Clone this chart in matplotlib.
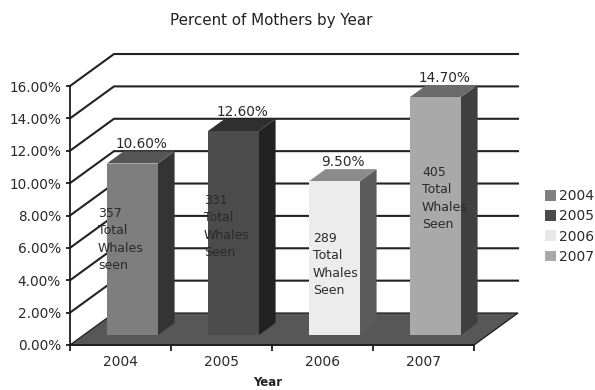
import matplotlib
matplotlib.use('Agg')
import matplotlib.pyplot as plt
from matplotlib.patches import Patch, Polygon
from matplotlib.ticker import FuncFormatter

years = ['2004', '2005', '2006', '2007']
percents = [10.6, 12.6, 9.5, 14.7]
percent_labels = ['10.60%', '12.60%', '9.50%', '14.70%']
whale_notes = ['357\nTotal\nWhales\nseen', '331\nTotal\nWhales\nSeen',
               '289\nTotal\nWhales\nSeen', '405\nTotal\nWhales\nSeen']
y_ticks = [0, 2, 4, 6, 8, 10, 12, 14, 16]

W, H = 595, 390
# front plane of the chart in pixels
LEFT, RIGHT, BOTTOM, TOP = 70, 474, 345, 86
# how far the back wall is shifted, in category units / percent
DEPTH_X = 44 / 101
DEPTH_Y = 32 / 16.2

front_colors = ['#7e7e7e', '#4c4c4c', '#ececec', '#a9a9a9']
top_colors = ['#565656', '#2f2f2f', '#8b8b8b', '#6b6b6b']
side_colors = ['#343434', '#222222', '#5c5c5c', '#404040']
legend_colors = ['#808080', '#4a4a4a', '#e8e8e8', '#a9a9a9']
text_color = '#2a2a2a'

# where each note starts, left edge in pixels and y of its first line
note_x = [98, 204, 313, 422]
note_y = [213, 200, 238, 172]


def skew(x, y, d):
    # d = 0 is the front plane, d = 1 the back wall
    return x + d * DEPTH_X, y + d * DEPTH_Y


fig = plt.figure(figsize=(W / 100, H / 100), dpi=100)
ax = fig.add_axes([LEFT / W, 1 - BOTTOM / H, (RIGHT - LEFT) / W, (BOTTOM - TOP) / H])
ax.patch.set_facecolor('none')
ax.set_xlim(0, 4)
ax.set_ylim(0, 16)

# back wall lines and the diagonals running back from the left axis
for v in y_ticks[1:]:
    ax.plot(*zip(skew(0, v, 0), skew(0, v, 1), skew(4, v, 1)), color='#222222',
            lw=1.5, clip_on=False, zorder=1, solid_joinstyle='miter')

# floor
floor = [skew(0, 0, 0), skew(4, 0, 0), skew(4, 0, 1), skew(0, 0, 1)]
ax.add_patch(Polygon(floor, closed=True, fc='#575757', ec='#1c1c1c', lw=0.9,
                     clip_on=False, zorder=2))

# bars: front face, side and top, sheared into the depth
bar_left = 0.23
bar_width = 0.505
d0, d1 = 0.31, 0.69
for i, v in enumerate(percents):
    x0 = i + bar_left
    x1 = x0 + bar_width
    front = [skew(x0, 0, d0), skew(x1, 0, d0), skew(x1, v, d0), skew(x0, v, d0)]
    side = [skew(x1, 0, d0), skew(x1, 0, d1), skew(x1, v, d1), skew(x1, v, d0)]
    top = [skew(x0, v, d0), skew(x1, v, d0), skew(x1, v, d1), skew(x0, v, d1)]
    ax.add_patch(Polygon(side, closed=True, fc=side_colors[i], ec='none', clip_on=False, zorder=3))
    ax.add_patch(Polygon(top, closed=True, fc=top_colors[i], ec='none', clip_on=False, zorder=3))
    ax.add_patch(Polygon(front, closed=True, fc=front_colors[i], ec='none', clip_on=False, zorder=3))

    # value label sits just above the top face
    lx, ly = skew(x0 + bar_width / 2, v, d1)
    ax.annotate(percent_labels[i], (lx, ly), xytext=(-8, 0), textcoords='offset pixels',
                ha='center', va='bottom', fontsize=9.8, color=text_color, zorder=5,
                annotation_clip=False)

    fig.text(note_x[i] / W, 1 - (note_y[i] - 6) / H, whale_notes[i], ha='left', va='top',
             fontsize=9, color=text_color, linespacing=1.44, zorder=6)

# axes
for side_name in ['top', 'right']:
    ax.spines[side_name].set_visible(False)
for side_name in ['left', 'bottom']:
    ax.spines[side_name].set_color('#1c1c1c')
    ax.spines[side_name].set_linewidth(1.3)
    ax.spines[side_name].set_zorder(4)
ax.set_yticks(y_ticks)
ax.yaxis.set_major_formatter(FuncFormatter(lambda v, _: f'{v:.2f}%'))
ax.set_xticks(range(5))
ax.set_xticklabels([])
ax.set_xticks([i + 0.5 for i in range(4)], minor=True)
ax.set_xticklabels(years, minor=True)
ax.tick_params(axis='x', which='major', length=4, width=1.3, color='#1c1c1c')
ax.tick_params(axis='x', which='minor', length=0, pad=7, labelsize=9.9, labelcolor=text_color)
ax.tick_params(axis='y', length=3, width=1.3, pad=3.5, color='#1c1c1c', labelsize=9.8, labelcolor=text_color)

fig.text(271.5 / W, 1 - 20 / H, 'Percent of Mothers by Year', ha='center', va='center',
         fontsize=10.9, color='#222222')
fig.text(268 / W, 1 - 382 / H, 'Year', ha='center', va='center', fontsize=8.5,
         fontweight='bold', color='#222222')

handles = [Patch(fc=c, ec='none') for c in legend_colors]
fig.legend(handles, years, loc='center left', bbox_to_anchor=(541 / W, 1 - 226.5 / H), frameon=False,
           fontsize=10, labelcolor=text_color, handlelength=0.8, handleheight=0.8,
           handletextpad=0.18, labelspacing=0.45, borderpad=0.3, borderaxespad=0)

fig.savefig('out.png', dpi=100)
